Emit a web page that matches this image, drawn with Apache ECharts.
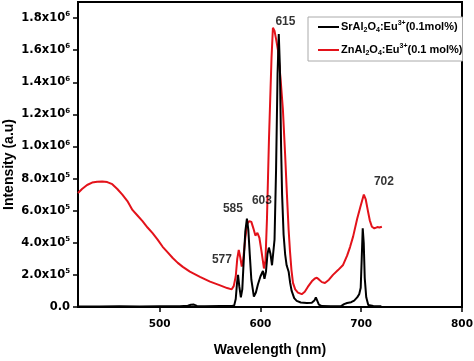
<!DOCTYPE html>
<html><head><meta charset="utf-8">
<script src="https://cdn.jsdelivr.net/npm/echarts@6/dist/echarts.min.js"></script>
<style>html,body{margin:0;padding:0;background:#fff}#c{width:474px;height:361px}</style>
</head><body><div id="c"></div>
<script>
// Series data: [wavelength (nm), intensity (a.u.)]
var srAlName = 'SrAl2O4:Eu3+(0.1mol%)';
var znAlName = 'ZnAl2O4:Eu3+(0.1 mol%)';
var srAlData = [[419,3000],[440,3000],[460,4000],[480,3000],[500,4000],[520,5000],[528,8000],[531,14000],[534,15000],[537,7000],[545,5000],[560,6000],[572,6000],[574,10000],[575.5,50000],[576.8,150000],[577.8,200000],[579,130000],[580.6,60000],[582,110000],[583.5,300000],[585,470000],[586.6,550000],[588,480000],[589.5,320000],[591,170000],[593.5,65000],[595.5,90000],[597.5,140000],[600,190000],[602.5,225000],[604,175000],[605.5,220000],[607,330000],[608.4,370000],[610,330000],[611.5,260000],[612.5,250000],[614,420000],[615.5,850000],[617,1450000],[618.2,1700000],[619.3,1500000],[620.5,1000000],[621.5,700000],[623,450000],[624.5,330000],[626,260000],[628,220000],[629.5,150000],[631,100000],[633.5,55000],[636,38000],[640,28000],[646,25000],[651,26000],[653.5,40000],[655,60000],[656.5,50000],[658,15000],[661,6000],[670,5000],[680,6000],[683,18000],[686,25000],[690,30000],[693,40000],[696,60000],[698,80000],[699.5,120000],[700.5,300000],[701.5,490000],[702.5,400000],[703.5,180000],[705,60000],[707,12000],[712,6000],[720,5000]];
var znAlData = [[419,710000],[423,735000],[428,760000],[433,775000],[438,780000],[443,782000],[448,778000],[453,765000],[458,735000],[463,700000],[468,660000],[473,605000],[478,570000],[483,535000],[488,495000],[493,460000],[498,420000],[503,375000],[508,340000],[513,305000],[518,275000],[523,250000],[530,220000],[540,188000],[550,158000],[560,135000],[567,118000],[571.5,110000],[573.5,130000],[575.5,190000],[577,300000],[578.5,355000],[580,310000],[581.5,252000],[583,300000],[585,430000],[587,520000],[589,535000],[591,530000],[593,490000],[595,445000],[597,462000],[599,430000],[601,350000],[603.5,240000],[605,290000],[606.5,550000],[607.5,800000],[608.5,1050000],[609.5,1250000],[611,1550000],[612.4,1740000],[614,1720000],[615.5,1670000],[617.4,1600000],[620,1420000],[622.3,1230000],[624.5,950000],[626.3,700000],[628,480000],[629.3,350000],[630.8,230000],[632.3,150000],[634.5,110000],[637.2,90000],[641,80000],[644,95000],[647,125000],[651,160000],[654,178000],[656,182000],[658,172000],[661,155000],[664,150000],[668,170000],[672,200000],[677,230000],[682,262000],[686,320000],[689,375000],[692,440000],[696,550000],[699,620000],[701,665000],[702.6,700000],[704.5,670000],[706.6,600000],[708.5,540000],[710.6,500000],[713,490000],[716,498000],[718,495000],[720.5,500000]];
// Peak annotations: [text, wavelength, intensity]
var peakLabels = [['615',624.8,1776000],['585',572.7,611000],['603',601.5,660000],['577',561.8,293000],['702',722.5,779000]];
var xTicks = [500,600,700,800];
var yTicks = [0,200000,400000,600000,800000,1000000,1200000,1400000,1600000,1800000];
var xMin = 419, xMax = 800, yMin = 0, yMax = 1900000;

function yLabel(v){
  if (v === 0) return '{a|0.0}';
  if (v >= 1e6) return '{a|' + (v/1e6).toFixed(1) + 'x10}{s|6}';
  return '{a|' + (v/1e5).toFixed(1) + 'x10}{s|5}';
}
var legendRich = {
  n:{fontSize:11,fontWeight:'bold',fontFamily:'Liberation Sans',color:'#000',lineHeight:14,verticalAlign:'middle'},
  sub:{fontSize:7,fontWeight:'bold',fontFamily:'Liberation Sans',color:'#000',lineHeight:7,verticalAlign:'bottom'},
  sup:{fontSize:7,fontWeight:'bold',fontFamily:'Liberation Sans',color:'#000',lineHeight:7,verticalAlign:'top'}
};
function legendFmt(name){
  var el = name.indexOf('SrAl') === 0 ? 'SrAl' : 'ZnAl';
  var tail = name.substring(name.indexOf('(')) ;
  return '{n|' + el + '}{sub|2}{n|O}{sub|4}{n|:Eu}{sup|3+}{n|' + tail + '}';
}
var chart = echarts.init(document.getElementById('c'), null, {renderer:'canvas'});
chart.setOption({
  animation:false,
  backgroundColor:'#fff',
  grid:{left:78,right:12,top:2,bottom:54,show:true,borderColor:'#000',borderWidth:2,containLabel:false,outerBoundsMode:'none'},
  legend:{
    data:[srAlName, znAlName], orient:'vertical', left:308, top:17,
    padding:[3,0,4,10], itemGap:9, itemWidth:21, itemHeight:2, icon:'rect',
    borderColor:'#aaa', borderWidth:1, backgroundColor:'#fff',
    formatter:legendFmt, textStyle:{rich:legendRich, padding:[0,0,0,-3]}
  },
  xAxis:{
    type:'value', min:xMin, max:xMax,
    name:'Wavelength (nm)', nameLocation:'middle', nameGap:36, nameMoveOverlap:false,
    nameTextStyle:{fontFamily:'Liberation Sans',fontWeight:'bold',fontSize:14,color:'#000'},
    axisLine:{lineStyle:{color:'#000',width:2}},
    axisTick:{show:true,length:5,lineStyle:{color:'#000',width:1.5},customValues:xTicks},
    axisLabel:{customValues:xTicks,margin:12,fontFamily:'DejaVu Sans',fontWeight:'bold',fontSize:10.5,color:'#000'},
    splitLine:{show:false}
  },
  yAxis:{
    type:'value', min:yMin, max:yMax,
    name:'Intensity (a.u)', nameLocation:'middle', nameGap:62, nameMoveOverlap:false,
    nameTextStyle:{fontFamily:'Liberation Sans',fontWeight:'bold',fontSize:14,color:'#000',padding:[0,20,0,0]},
    axisLine:{show:true,lineStyle:{color:'#000',width:2}},
    axisTick:{show:true,length:5,lineStyle:{color:'#000',width:1.5},customValues:yTicks},
    axisLabel:{customValues:yTicks,margin:8,formatter:yLabel,
      rich:{a:{fontFamily:'DejaVu Sans',fontWeight:'bold',fontSize:11.5,color:'#000',lineHeight:14,verticalAlign:'middle'},
            s:{fontFamily:'DejaVu Sans',fontWeight:'bold',fontSize:7,color:'#000',lineHeight:8,verticalAlign:'top'}}},
    splitLine:{show:false}
  },
  series:[
    {name:srAlName,type:'line',data:srAlData,showSymbol:false,symbol:'none',lineStyle:{color:'#000',width:2},itemStyle:{color:'#000'},z:3},
    {name:znAlName,type:'line',data:znAlData,showSymbol:false,symbol:'none',lineStyle:{color:'#e3121a',width:2},itemStyle:{color:'#e3121a'},z:2},
    {name:'peaks',type:'scatter',symbolSize:0,silent:true,
     data:peakLabels.map(function(p){return {name:p[0],value:[p[1],p[2]]};}),
     label:{show:true,position:'inside',formatter:'{b}',fontFamily:'Liberation Sans',fontWeight:'bold',fontSize:12,color:'#000'},z:5}
  ]
});
</script></body></html>
